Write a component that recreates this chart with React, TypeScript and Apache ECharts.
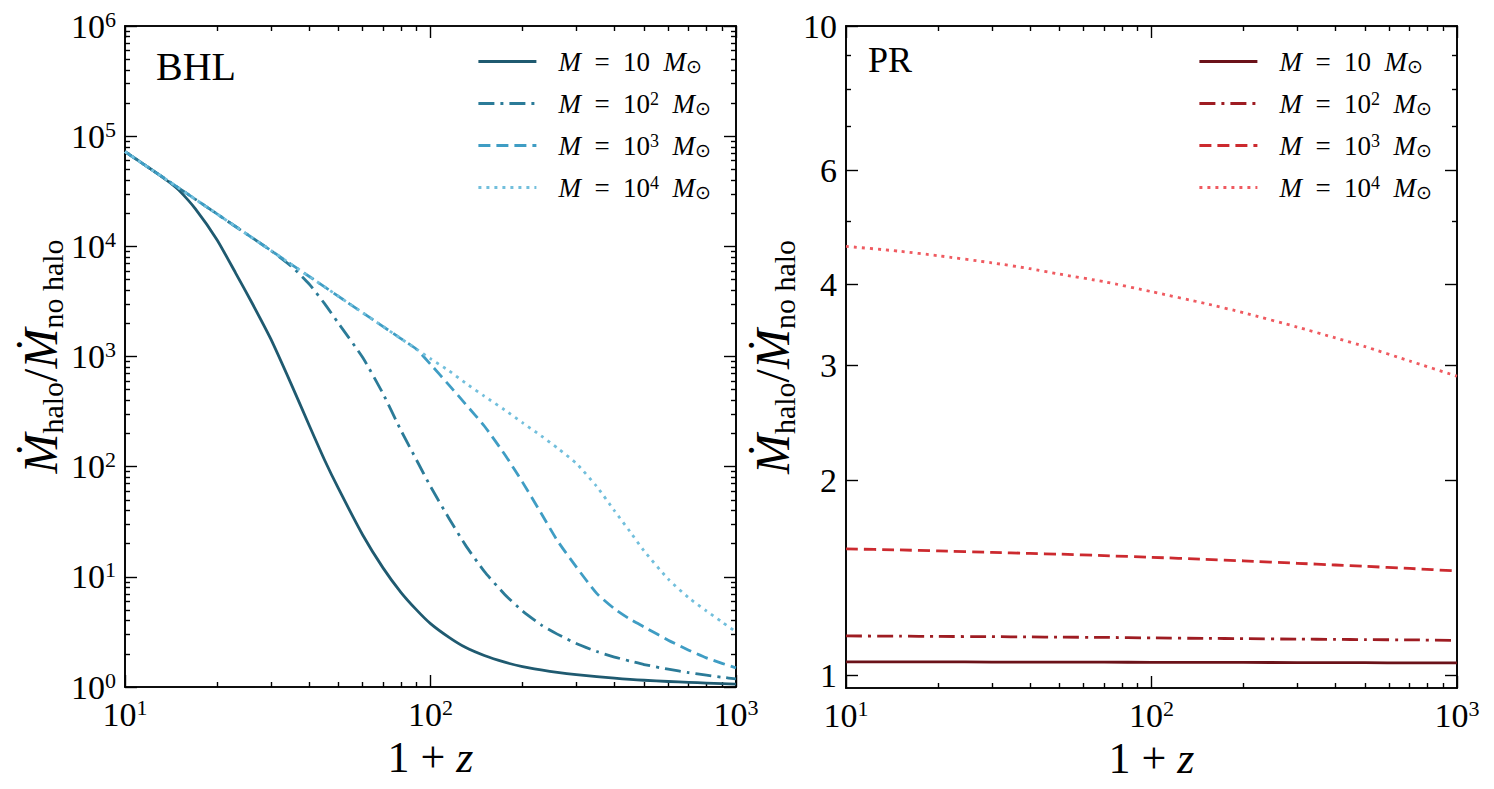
import React, { useEffect, useRef } from 'react';
import * as echarts from 'echarts';

// ---------- data ----------
// left panel (BHL): 1+z grid and accretion-rate ratios
const onePlusZ = [10, 11, 12, 13, 14, 15, 17, 20, 23, 26, 30, 35, 40, 45, 50, 60, 70, 80, 90, 100, 115, 130, 150, 175, 200, 230, 260, 300, 350, 400, 450, 500, 600, 700, 800, 900, 1000];
const bhlM1 = [72440, 60530, 51400, 44160, 38020, 32360, 21880, 11480, 5750, 3090, 1445, 562, 240, 115, 63.1, 24.0, 12.0, 7.24, 5.01, 3.76, 2.82, 2.29, 1.93, 1.68, 1.53, 1.43, 1.358, 1.294, 1.242, 1.202, 1.172, 1.151, 1.122, 1.102, 1.086, 1.074, 1.064];
const bhlM2 = [72440, 60530, 51400, 44260, 38460, 33800, 26730, 19680, 15130, 12020, 9180, 6607, 4571, 3020, 1995, 977, 457, 214, 115, 66.1, 33.9, 19.5, 11.2, 6.92, 4.9, 3.67, 3.02, 2.48, 2.1, 1.87, 1.72, 1.6, 1.45, 1.35, 1.28, 1.227, 1.183];
const bhlM3 = [72440, 60530, 51400, 44260, 38460, 33800, 26730, 19680, 15130, 12020, 9180, 6870, 5350, 4290, 3515, 2495, 1868, 1453, 1165, 851, 550, 372, 234, 129, 72.4, 38.0, 21.4, 12.3, 7.08, 5.13, 4.12, 3.51, 2.66, 2.16, 1.84, 1.64, 1.49];
const bhlM4 = [72440, 60530, 51400, 44260, 38460, 33800, 26730, 19680, 15130, 12020, 9180, 6870, 5350, 4290, 3515, 2495, 1868, 1453, 1165, 955, 741, 575, 437, 327, 251, 191, 148, 107, 66.1, 39.8, 25.7, 17.2, 9.55, 6.46, 4.9, 3.89, 3.16];

// right panel (PR)
const prOnePlusZ = [10, 15, 20, 30, 40, 50, 70, 100, 150, 200, 300, 400, 500, 700, 1000];
const prM1 = [1.05, 1.05, 1.05, 1.049, 1.049, 1.049, 1.049, 1.048, 1.048, 1.048, 1.047, 1.047, 1.047, 1.046, 1.046];
const prM2 = [1.151, 1.15, 1.149, 1.148, 1.147, 1.146, 1.145, 1.143, 1.141, 1.14, 1.138, 1.137, 1.136, 1.135, 1.133];
const prM3 = [1.567, 1.561, 1.556, 1.548, 1.542, 1.538, 1.53, 1.521, 1.51, 1.502, 1.489, 1.48, 1.473, 1.462, 1.449];
const prM4 = [4.58, 4.5, 4.43, 4.32, 4.23, 4.15, 4.04, 3.9, 3.74, 3.62, 3.44, 3.31, 3.21, 3.05, 2.89];

const massExponents = ['', '2', '3', '4'];

// ticks
const xMajorTicks = [10, 100, 1000];
const xMinorTicks = [20, 30, 40, 50, 60, 70, 80, 90, 200, 300, 400, 500, 600, 700, 800, 900];
const bhlYMajorTicks = [1, 10, 100, 1000, 10000, 100000, 1000000];
const bhlYMinorTicks = [
  2, 3, 4, 5, 6, 7, 8, 9,
  20, 30, 40, 50, 60, 70, 80, 90,
  200, 300, 400, 500, 600, 700, 800, 900,
  2000, 3000, 4000, 5000, 6000, 7000, 8000, 9000,
  20000, 30000, 40000, 50000, 60000, 70000, 80000, 90000,
  200000, 300000, 400000, 500000, 600000, 700000, 800000, 900000,
];
const prYMajorTicks = [1, 2, 3, 4, 6, 10];
const prYMinorTicks = [5, 7, 8, 9];

const xRange = [10, 1000];
const bhlYRange = [1, 1000000];
const prYRange = [0.957, 10];

const bhlColors = ['#1f5a70', '#2b7b98', '#3f9dc4', '#72bfdc'];
const prColors = ['#6b1219', '#9e1c22', '#cc2a2f', '#ef5a60'];
const lineTypes: any[] = ['solid', [16, 6, 3, 6], [12, 6], [3, 5]];

const FONT = 'Liberation Serif, DejaVu Serif, serif';

const lg = (v: number) => Math.log10(v);

const tickRich = {
  b: { fontSize: 34, fontFamily: FONT, color: '#000', lineHeight: 36 },
  s: { fontSize: 22, fontFamily: FONT, color: '#000', lineHeight: 18, verticalAlign: 'top' },
};

const yNameRich = {
  m: { fontSize: 48, fontStyle: 'italic', fontFamily: FONT, color: '#000', lineHeight: 54 },
  sl: { fontSize: 48, fontFamily: FONT, color: '#000', lineHeight: 54 },
  sb: { fontSize: 30, fontFamily: FONT, color: '#000', lineHeight: 20, verticalAlign: 'bottom' },
};
const yName = '{m|Ṁ}{sb|halo}{sl|/}{m|Ṁ}{sb|no halo}';

const xNameRich = {
  t: { fontSize: 44, fontFamily: FONT, color: '#000', lineHeight: 48 },
  i: { fontSize: 44, fontStyle: 'italic', fontFamily: FONT, color: '#000', lineHeight: 48 },
};
const xName = '{t|1 + }{i|z}';

const legendRich = {
  g: { width: 17 },
  t: { fontSize: 27, fontFamily: FONT, color: '#000', lineHeight: 28 },
  i: { fontSize: 27, fontStyle: 'italic', fontFamily: FONT, color: '#000', lineHeight: 28 },
  sp: { fontSize: 18, fontFamily: FONT, color: '#000', lineHeight: 16, verticalAlign: 'top' },
  sub: { fontSize: 19, fontFamily: 'DejaVu Sans, sans-serif', color: '#000', lineHeight: 16, verticalAlign: 'bottom' },
};
const legendLabel = (e: string) =>
  `{g|}{i|M}{t|  =  10}${e ? `{sp|${e}}` : ''}{t|  }{i|M}{sub|⊙}`;

function decoAxis(
  grid: number,
  position: string,
  range: number[],
  ticks: number[],
  len: number,
  extra: any = {}
) {
  return {
    type: 'value',
    gridIndex: grid,
    position,
    min: lg(range[0]),
    max: lg(range[1]),
    silent: true,
    axisLine: { show: true, onZero: false, lineStyle: { color: '#000', width: 1.6 } },
    axisTick: {
      show: true,
      inside: true,
      length: len,
      customValues: ticks.map(lg),
      lineStyle: { color: '#000', width: 1.4 },
    },
    axisLabel: { show: false },
    splitLine: { show: false },
    ...extra,
  };
}

function panelAxes(grid: number, yRange: number[], yMaj: number[], yMin: number[], yLabelFmt: (v: number) => string, yNameGap: number) {
  const xs = [
    { type: 'log', logBase: 10, gridIndex: grid, min: xRange[0], max: xRange[1], show: false },
    decoAxis(grid, 'bottom', xRange, xMajorTicks, 12, {
      axisLabel: {
        show: true,
        margin: 9,
        customValues: xMajorTicks.map(lg),
        formatter: (v: number) => `{b|10}{s|${Math.round(v)}}`,
        rich: tickRich,
      },
      name: xName,
      nameLocation: 'middle',
      nameGap: 44,
      nameTextStyle: { rich: xNameRich },
    }),
    decoAxis(grid, 'bottom', xRange, xMinorTicks, 5),
    decoAxis(grid, 'top', xRange, xMajorTicks, 12),
    decoAxis(grid, 'top', xRange, xMinorTicks, 5),
  ];
  const ys = [
    { type: 'log', logBase: 10, gridIndex: grid, min: yRange[0], max: yRange[1], show: false },
    decoAxis(grid, 'left', yRange, yMaj, 12, {
      axisLabel: {
        show: true,
        margin: 9,
        customValues: yMaj.map(lg),
        formatter: yLabelFmt,
        rich: tickRich,
      },
      name: yName,
      nameLocation: 'middle',
      nameRotate: 90,
      nameGap: yNameGap,
      nameTextStyle: { rich: yNameRich },
    }),
    decoAxis(grid, 'left', yRange, yMin, 5),
    decoAxis(grid, 'right', yRange, yMaj, 12),
    decoAxis(grid, 'right', yRange, yMin, 5),
  ];
  return { xs, ys };
}

export default function App() {
  const ref = useRef<HTMLDivElement>(null);
  useEffect(() => {
    if (!ref.current) return;
    const chart = echarts.init(ref.current, undefined, { renderer: 'svg' });

    const left = panelAxes(0, bhlYRange, bhlYMajorTicks, bhlYMinorTicks, (v: number) => `{b|10}{s|${Math.round(v)}}`, 52);
    const right = panelAxes(1, prYRange, prYMajorTicks, prYMinorTicks, (v: number) => `{b|${Math.round(Math.pow(10, v))}}`, 34);

    const bhlSets = [bhlM1, bhlM2, bhlM3, bhlM4];
    const prSets = [prM1, prM2, prM3, prM4];
    const bhlNames = massExponents.map((_, i) => `BHL${i}`);
    const prNames = massExponents.map((_, i) => `PR${i}`);

    const mkSeries = (name: string, xs: number[], ys: number[], color: string, type: any, axisIdx: number) => ({
      type: 'line',
      name,
      xAxisIndex: axisIdx,
      yAxisIndex: axisIdx,
      data: xs.map((x, k) => [x, ys[k]]),
      symbol: 'none',
      showSymbol: false,
      smooth: 0.2,
      clip: true,
      color,
      lineStyle: { color, width: 2.8, type, cap: 'butt', join: 'round' },
      emphasis: { disabled: true },
    });

    const series = [
      ...bhlSets.map((d, i) => mkSeries(bhlNames[i], onePlusZ, d, bhlColors[i], lineTypes[i], 0)),
      ...prSets.map((d, i) => mkSeries(prNames[i], prOnePlusZ, d, prColors[i], lineTypes[i], 5)),
    ];

    const legendBase = {
      orient: 'vertical',
      padding: 0,
      itemWidth: 58,
      itemHeight: 14,
      itemGap: 14,
      selectedMode: false,
      itemStyle: { opacity: 0 },
      lineStyle: { width: 2.8 },
      formatter: (n: string) => legendLabel(massExponents[Number(n.slice(-1))]),
      textStyle: { rich: legendRich },
    };

    chart.setOption({
      animation: false,
      backgroundColor: '#fff',
      grid: [
        { left: 125, top: 26, width: 611, height: 661, containLabel: false, outerBoundsMode: 'none' },
        { left: 846, top: 26, width: 611, height: 662, containLabel: false, outerBoundsMode: 'none' },
      ],
      xAxis: [...left.xs, ...right.xs],
      yAxis: [...left.ys, ...right.ys],
      legend: [
        { ...legendBase, data: bhlNames, left: 477, top: 48 },
        { ...legendBase, data: prNames, left: 1198, top: 48 },
      ],
      graphic: [
        { type: 'text', left: 156, top: 46, style: { text: 'BHL', font: `40px ${FONT}`, fill: '#000' } },
        { type: 'text', left: 868, top: 42, style: { text: 'PR', font: `36px ${FONT}`, fill: '#000' } },
      ],
      series,
    });
    return () => chart.dispose();
  }, []);
  return (
    <div
      ref={ref}
      style={{ position: 'fixed', left: 0, top: 0, width: 1494, height: 789, background: '#fff' }}
    />
  );
}
